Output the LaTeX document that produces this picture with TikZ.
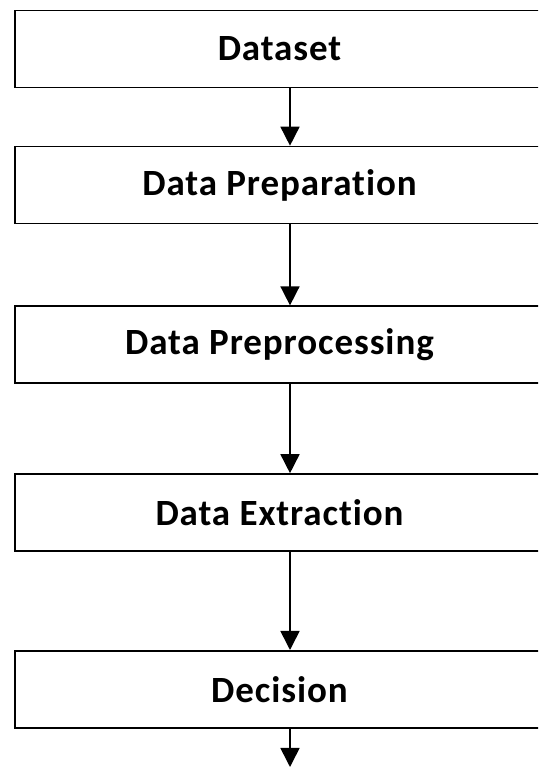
\documentclass[tikz,border=0pt]{standalone}
\usepackage{fontspec}
\setmainfont{Carlito}[RawFeature=-liga, LetterSpace=2.5]
\usetikzlibrary{arrows.meta}
\tikzset{
  stage/.style={draw=black, line width=1.6pt, fill=white, minimum width=529pt,
    minimum height=77pt, inner sep=0pt, font=\fontsize{37}{40}\selectfont\bfseries},
  flow/.style={draw=black, line width=1.6pt, -{Triangle[width=19pt,length=19pt]}}
}
\begin{document}
\begin{tikzpicture}[x=1pt,y=1pt]
  \useasboundingbox (0,0) rectangle (538,767);
  \clip (0,0) rectangle (538,767);
  \fill[white] (0,0) rectangle (538,767);
  % stages of the pipeline, top to bottom
  \node[stage] (dataset) at (279.5,718.1) {Dataset};
  \node[stage] (prep)    at (279.5,582.0) {Data Preparation};
  \node[stage] (preproc) at (279.5,422.3) {Data Preprocessing};
  \node[stage] (extract) at (279.5,254.5) {Data Extraction};
  \node[stage] (decide)  at (279.5,77.7)  {Decision};
  % vertical line that carries the arrows, and the open end at the bottom
  \coordinate (ax) at (290,0);
  \coordinate (out) at (290,0);
  \draw[flow] (dataset.south -| ax) -- (prep.north -| ax);
  \draw[flow] (prep.south -| ax) -- (preproc.north -| ax);
  \draw[flow] (preproc.south -| ax) -- (extract.north -| ax);
  \draw[flow] (extract.south -| ax) -- (decide.north -| ax);
  \draw[flow] (decide.south -| ax) -- (out);
\end{tikzpicture}
\end{document}
